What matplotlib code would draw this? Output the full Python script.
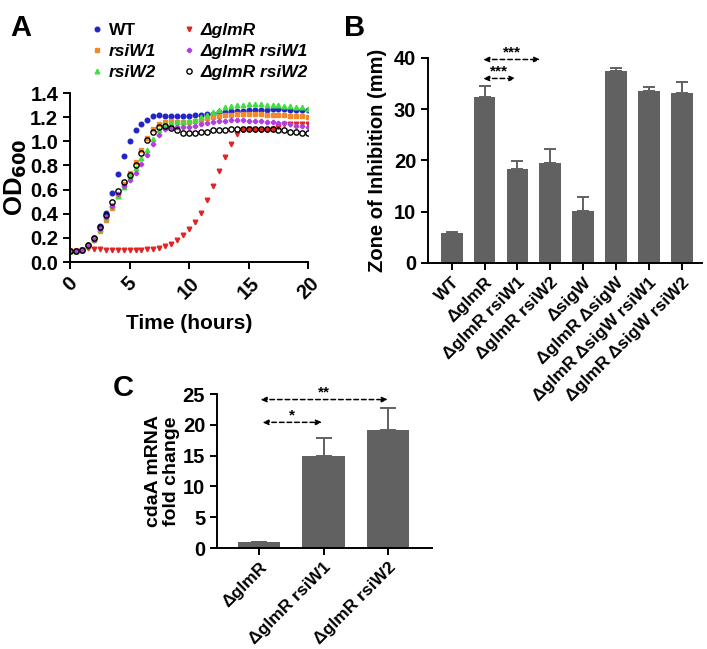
import matplotlib
matplotlib.use("Agg")
import matplotlib.pyplot as plt
import numpy as np

plt.rcParams['font.family'] = ['Liberation Sans', 'DejaVu Sans']
plt.rcParams['font.weight'] = 'bold'
plt.rcParams['axes.labelweight'] = 'bold'
plt.rcParams['axes.linewidth'] = 1.4

# ---- Panel A: growth curves (OD600 every 0.5 h) ----
time_h = np.arange(0, 20.5, 0.5)
od_wt = [0.09, 0.09, 0.10, 0.14, 0.20, 0.30, 0.41, 0.57, 0.73, 0.88, 1.00,
         1.09, 1.14, 1.18, 1.21, 1.22, 1.21, 1.21, 1.21, 1.21, 1.21, 1.22,
         1.22, 1.23, 1.23, 1.24, 1.24, 1.25, 1.25, 1.25, 1.26, 1.26, 1.26,
         1.26, 1.27, 1.27, 1.27, 1.26, 1.26, 1.26, 1.26]
od_rsiw1 = [0.09, 0.09, 0.10, 0.13, 0.18, 0.26, 0.35, 0.45, 0.55, 0.65, 0.74,
            0.83, 0.93, 1.03, 1.10, 1.14, 1.16, 1.17, 1.16, 1.16, 1.16, 1.17,
            1.18, 1.19, 1.20, 1.21, 1.22, 1.22, 1.23, 1.23, 1.23, 1.23, 1.23,
            1.22, 1.22, 1.22, 1.22, 1.21, 1.21, 1.21, 1.20]
od_rsiw2 = [0.09, 0.09, 0.10, 0.13, 0.19, 0.27, 0.37, 0.47, 0.55, 0.62, 0.71,
            0.78, 0.86, 0.93, 1.02, 1.09, 1.14, 1.15, 1.16, 1.16, 1.17, 1.18,
            1.20, 1.22, 1.24, 1.26, 1.28, 1.29, 1.30, 1.30, 1.31, 1.31, 1.31,
            1.30, 1.30, 1.30, 1.29, 1.29, 1.28, 1.28, 1.27]
od_glmr = [0.09, 0.09, 0.10, 0.12, 0.11, 0.11, 0.10, 0.10, 0.10, 0.10, 0.10,
           0.10, 0.10, 0.11, 0.11, 0.12, 0.13, 0.15, 0.18, 0.22, 0.27, 0.33,
           0.41, 0.51, 0.63, 0.75, 0.87, 0.98, 1.06, 1.09, 1.10, 1.09, 1.09,
           1.09, 1.10, 1.12, 1.14, 1.14, 1.14, 1.14, 1.14]
od_glmr_rsiw1 = [0.09, 0.09, 0.10, 0.13, 0.18, 0.27, 0.37, 0.46, 0.56, 0.63,
                 0.68, 0.74, 0.81, 0.89, 0.98, 1.05, 1.10, 1.12, 1.12, 1.12,
                 1.12, 1.13, 1.14, 1.15, 1.16, 1.17, 1.17, 1.18, 1.18, 1.18,
                 1.17, 1.17, 1.17, 1.16, 1.16, 1.15, 1.15, 1.14, 1.13, 1.13, 1.12]
od_glmr_rsiw2 = [0.09, 0.09, 0.10, 0.14, 0.20, 0.29, 0.39, 0.50, 0.59, 0.66,
                 0.72, 0.80, 0.90, 1.01, 1.08, 1.12, 1.13, 1.11, 1.09, 1.07,
                 1.07, 1.07, 1.08, 1.08, 1.09, 1.09, 1.09, 1.10, 1.10, 1.10,
                 1.10, 1.10, 1.10, 1.10, 1.10, 1.09, 1.09, 1.08, 1.08, 1.07, 1.07]

# ---- Panel B: zone of inhibition ----
strains_b = ["WT", "\u0394glmR", "\u0394glmR rsiW1", "\u0394glmR rsiW2", "\u0394sigW",
             "\u0394glmR \u0394sigW", "\u0394glmR \u0394sigW rsiW1", "\u0394glmR \u0394sigW rsiW2"]
zone_mm = [5.8, 32.3, 18.4, 19.6, 10.1, 37.5, 33.6, 33.2]
zone_err = [0.3, 2.3, 1.4, 2.7, 2.7, 0.6, 0.7, 2.2]

# ---- Panel C: cdaA mRNA ----
strains_c = ["\u0394glmR", "\u0394glmR rsiW1", "\u0394glmR rsiW2"]
cdaa_fold = [1.0, 14.9, 19.2]
cdaa_err = [0.0, 2.9, 3.5]

bar_color = "#616161"


def style_axes(ax):
    ax.spines['top'].set_visible(False)
    ax.spines['right'].set_visible(False)
    ax.tick_params(direction='out', width=1.4, length=5, labelsize=14.5)
    for lab in ax.get_yticklabels():
        lab.set_fontweight('bold')


def dashed_arrow(ax, x0, x1, y, label):
    ax.annotate("", xy=(x1, y), xytext=(x0, y),
                arrowprops=dict(arrowstyle="<|-|>,head_length=0.35,head_width=0.15",
                                linestyle=(0, (3, 2)), color="black", lw=1.1,
                                shrinkA=0, shrinkB=0))
    ax.text((x0 + x1) / 2, y, label, ha='center', va='bottom', fontsize=11)


fig = plt.figure(figsize=(7.07, 6.49), dpi=100)

# Panel A
axA = fig.add_axes([0.099, 0.5963, 0.337, 0.2604])
series = [
    ("WT", od_wt, dict(marker='o', color='#2323c8', ms=3.3, mfc='#2323c8')),
    ("rsiW1", od_rsiw1, dict(marker='s', color='#f08a2c', ms=3.3, mfc='#f08a2c')),
    ("rsiW2", od_rsiw2, dict(marker='^', color='#3ee03e', ms=3.3, mfc='#3ee03e')),
    ("\u0394glmR", od_glmr, dict(marker='v', color='#e02424', ms=3.3, mfc='#e02424')),
    ("\u0394glmR rsiW1", od_glmr_rsiw1, dict(marker='P', color='#b23ee0', ms=3.0, mfc='#b23ee0')),
    ("\u0394glmR rsiW2", od_glmr_rsiw2, dict(marker='o', color='black', ms=3.8, mfc='none', mew=1.0)),
]
for name, vals, kw in series:
    axA.plot(time_h, vals, linestyle='none', label=name, **kw)
axA.set_xlim(0, 20)
axA.set_ylim(0, 1.4)
axA.set_xticks([0, 5, 10, 15, 20])
axA.set_yticks(np.arange(0, 1.41, 0.2))
axA.set_yticklabels([f"{v:.1f}" for v in np.arange(0, 1.41, 0.2)])
style_axes(axA)
axA.tick_params(axis='x', labelrotation=45)
for lab in axA.get_xticklabels():
    lab.set_fontweight('bold')
axA.set_xlabel("Time (hours)", fontsize=15, labelpad=8)
axA.set_ylabel("OD$_{\\mathbf{600}}$", fontsize=18.5, labelpad=1)
leg = axA.legend(ncol=2, loc='lower left', bbox_to_anchor=(0.015, 0.985), frameon=False,
                 fontsize=12.5, handletextpad=0.25, columnspacing=1.4,
                 labelspacing=0.32, handlelength=0.9, markerscale=1.0)
for t in leg.get_texts():
    if t.get_text() != "WT":
        t.set_fontstyle('italic')

# Panel B
axB = fig.add_axes([0.6054, 0.5948, 0.3876, 0.3159])
xb = np.arange(len(strains_b))
axB.bar(xb, zone_mm, width=0.66, color=bar_color)
axB.errorbar(xb, zone_mm, yerr=[np.zeros(len(zone_err)), zone_err], fmt='none',
             ecolor=bar_color, elinewidth=1.4, capsize=4, capthick=1.4)
axB.set_xlim(-0.72, 7.62)
axB.set_ylim(0, 40)
axB.set_yticks([0, 10, 20, 30, 40])
style_axes(axB)
axB.set_xticks(xb)
axB.set_xticklabels(strains_b, rotation=45, ha='right', rotation_mode='anchor',
                    fontsize=12.5, fontweight='bold')
axB.set_ylabel("Zone of Inhibition (mm)", fontsize=14.5, labelpad=5)
dashed_arrow(axB, 0.95, 1.95, 36.0, "***")
dashed_arrow(axB, 0.95, 2.7, 39.7, "***")

# Panel C
axC = fig.add_axes([0.307, 0.1556, 0.304, 0.2373])
xc = np.arange(len(strains_c))
axC.bar(xc, cdaa_fold, width=0.66, color=bar_color)
axC.errorbar(xc, cdaa_fold, yerr=[np.zeros(len(cdaa_err)), cdaa_err], fmt='none',
             ecolor=bar_color, elinewidth=1.4, capsize=6, capthick=1.4)
axC.set_xlim(-0.65, 2.68)
axC.set_ylim(0, 25)
axC.set_yticks([0, 5, 10, 15, 20, 25])
style_axes(axC)
axC.set_xticks(xc)
axC.set_xticklabels(strains_c, rotation=45, ha='right', rotation_mode='anchor',
                    fontsize=12.5, fontweight='bold')
axC.set_ylabel("cdaA mRNA\nfold change", fontsize=14, labelpad=2, linespacing=1.05)
dashed_arrow(axC, 0.05, 0.98, 20.4, "*")
dashed_arrow(axC, 0.02, 2.0, 24.1, "**")

# panel letters
fig.text(0.015, 0.978, "A", fontsize=21, fontweight='bold', va='top')
fig.text(0.487, 0.978, "B", fontsize=21, fontweight='bold', va='top')
fig.text(0.16, 0.424, "C", fontsize=21, fontweight='bold', va='top')

fig.savefig("out.png", dpi=100)
